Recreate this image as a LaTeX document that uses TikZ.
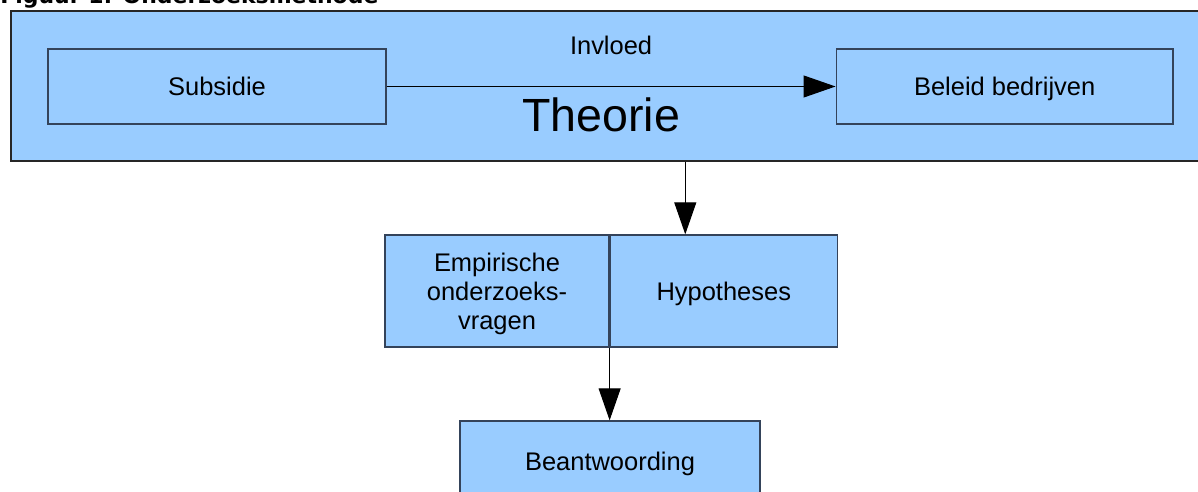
\documentclass[tikz,border=0pt]{standalone}
\usepackage{fontspec}
\setmainfont{Liberation Sans}
\newfontfamily\titelfont{DejaVu Sans}
\usepackage{xcolor}
\usepackage{tikz}
\usetikzlibrary{arrows.meta}
\usetikzlibrary{calc}
\usetikzlibrary{positioning}
\definecolor{blauw}{HTML}{99CCFF}
\definecolor{rand}{HTML}{34435A}

\begin{document}
\begin{tikzpicture}[x=0.02cm,y=-0.02cm,font=\fontsize{14.5}{16.5}\selectfont]
	\tikzstyle{blok}=[draw=rand, fill=blauw, rectangle, inner sep=0pt, line width=0.75pt, align=center, text depth=0pt]
	\tikzstyle{pijl}=[-{Triangle[length=0.64cm,width=0.44cm]}, black, line width=0.6pt]
	\useasboundingbox (0,0) rectangle (1198,492);
	\clip (0,0) rectangle (1198,492);
	\node[anchor=base west, inner sep=0pt, font=\titelfont\bfseries\fontsize{12.5}{15}\selectfont] (titel) at (0,3.5) {Figuur 1: Onderzoeksmethode};
	\node[blok, draw=black!85, minimum width=23.88cm, minimum height=3cm] (kader) at (608,86) {};
	\node[blok, minimum width=6.76cm, minimum height=1.5cm] (subsidie) at (217,86.5) {Subsidie};
	\node[blok, minimum width=6.74cm, minimum height=1.5cm] (beleid) [right=8.98cm of subsidie] {Beleid bedrijven};
	\node[anchor=base, inner sep=0pt, font=\fontsize{26.5}{30}\selectfont] (theorie) at (601,131.5) {Theorie};
	\node[blok, minimum width=4.48cm, minimum height=2.24cm] (empirisch) at (497,291) {Empirische\\onderzoeks-\\vragen};
	\node[blok, minimum width=4.54cm, minimum height=2.24cm] (hypo) [right=0pt of empirisch] {Hypotheses};
	\node[blok, minimum width=6cm, minimum height=1.6cm] (beantw) at (610,461) {Beantwoording};

	\draw[pijl] (subsidie) -- node[midway, yshift=0.82cm] (invloed) {Invloed} (beleid);
	\draw[pijl] ([xshift=-0.77cm]hypo.north |- kader.south) -- ([xshift=-0.77cm]hypo.north);
	\draw[pijl] (empirisch.south east) -- (empirisch.south east |- beantw.north);
\end{tikzpicture}
\end{document}
